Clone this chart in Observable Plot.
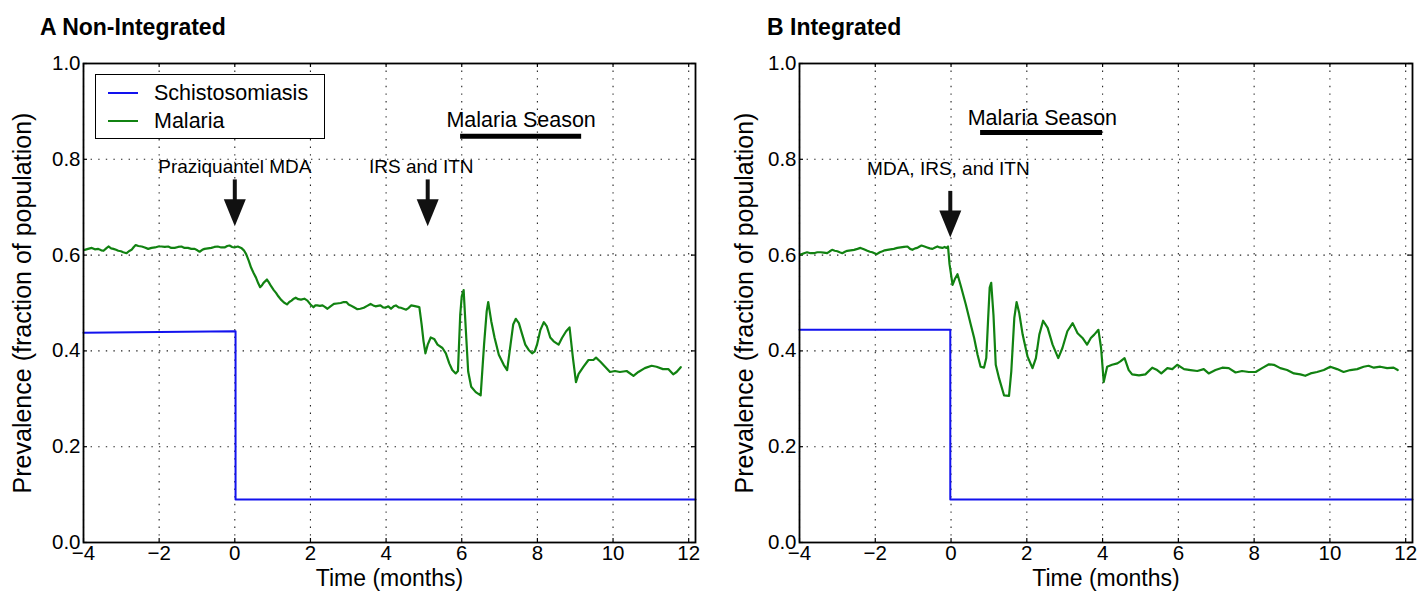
<!DOCTYPE html>
<html>
<head>
<meta charset="utf-8">
<script src="https://cdn.jsdelivr.net/npm/d3@7"></script>
<script src="https://cdn.jsdelivr.net/npm/@observablehq/plot@0.6"></script>
<style>
  body { margin: 0; background: #fff; }
  #wrap { position: relative; width: 1418px; height: 597px; font-family: "Liberation Sans", Arial, sans-serif; overflow: hidden; }
  .panel { position: absolute; top: 0; }
  .title { position: absolute; top: 14px; font-weight: bold; font-size: 23px; color: #000; }
  .legend { position: absolute; box-sizing: border-box; border: 1.5px solid #000; background: #fff; }
  .legend .row { position: absolute; left: 0; height: 24px; }
  .legend .sw { position: absolute; width: 30px; height: 2px; }
  .legend .lab { position: absolute; font-size: 21.5px; line-height: 24px; white-space: nowrap; }
</style>
</head>
<body>
<div id="wrap"></div>
<script>
// ---------- data ----------
const xTicks = [-4, -2, 0, 2, 4, 6, 8, 10, 12];
const yTicks = [0, 0.2, 0.4, 0.6, 0.8, 1.0];
const xDomain = [-4, 12.18];

const seriesNames = ["Schistosomiasis", "Malaria"];
const seriesColors = ["#1212ee", "#118211"];

// Panel A (Non-Integrated)
const aSchistoX = [-4, 0.02, 0.02, 12.18];
const aSchistoY = [0.438, 0.441, 0.09, 0.09];
const aMalariaX = [-3.97,-3.88,-3.78,-3.70,-3.61,-3.53,-3.47,-3.40,-3.34,-3.27,-3.21,-3.14,-3.08,-3.01,-2.95,-2.86,-2.80,-2.73,-2.67,-2.62,-2.55,-2.46,-2.38,-2.29,-2.20,-2.11,-2.02,-1.94,-1.85,-1.76,-1.68,-1.59,-1.50,-1.41,-1.33,-1.24,-1.15,-1.06,-0.99,-0.93,-0.86,-0.80,-0.71,-0.62,-0.54,-0.45,-0.36,-0.27,-0.20,-0.14,-0.07,-0.01,0.08,0.17,0.24,0.30,0.37,0.43,0.50,0.56,0.62,0.67,0.72,0.76,0.85,0.90,0.96,1.03,1.09,1.15,1.22,1.30,1.38,1.44,1.50,1.56,1.61,1.68,1.75,1.84,1.92,2.00,2.08,2.13,2.18,2.25,2.32,2.38,2.45,2.53,2.62,2.70,2.80,2.88,2.95,3.01,3.06,3.15,3.24,3.32,3.41,3.50,3.59,3.66,3.72,3.78,3.85,3.92,3.98,4.06,4.13,4.20,4.26,4.33,4.39,4.46,4.53,4.60,4.66,4.73,4.79,4.85,4.88,4.94,4.99,5.04,5.10,5.18,5.27,5.36,5.49,5.58,5.67,5.75,5.84,5.90,5.96,6.00,6.05,6.11,6.17,6.25,6.37,6.50,6.59,6.66,6.70,6.78,6.87,6.98,7.11,7.20,7.29,7.36,7.43,7.51,7.60,7.68,7.77,7.86,7.93,7.99,8.08,8.17,8.25,8.34,8.43,8.56,8.65,8.76,8.85,8.94,9.02,9.09,9.22,9.35,9.48,9.55,9.66,9.79,9.92,10.05,10.18,10.36,10.54,10.67,10.84,11.02,11.15,11.32,11.46,11.59,11.68,11.79];
const aMalariaY = [0.611,0.613,0.615,0.612,0.613,0.610,0.609,0.614,0.618,0.614,0.613,0.611,0.609,0.608,0.606,0.604,0.608,0.611,0.617,0.621,0.619,0.618,0.616,0.613,0.615,0.616,0.618,0.618,0.617,0.618,0.615,0.615,0.617,0.618,0.615,0.615,0.613,0.613,0.610,0.607,0.611,0.613,0.614,0.615,0.617,0.618,0.616,0.616,0.619,0.620,0.617,0.616,0.618,0.615,0.610,0.602,0.588,0.574,0.562,0.553,0.541,0.533,0.537,0.542,0.549,0.543,0.535,0.527,0.521,0.514,0.507,0.501,0.497,0.502,0.505,0.509,0.511,0.508,0.507,0.509,0.505,0.497,0.491,0.495,0.495,0.494,0.495,0.492,0.488,0.493,0.498,0.499,0.500,0.502,0.502,0.497,0.495,0.491,0.487,0.488,0.490,0.494,0.498,0.495,0.493,0.494,0.495,0.491,0.490,0.493,0.488,0.493,0.495,0.491,0.490,0.488,0.486,0.490,0.495,0.494,0.493,0.492,0.491,0.455,0.420,0.395,0.413,0.428,0.425,0.413,0.406,0.395,0.374,0.360,0.353,0.358,0.476,0.514,0.527,0.441,0.357,0.325,0.314,0.307,0.413,0.483,0.502,0.462,0.427,0.392,0.371,0.360,0.413,0.455,0.467,0.458,0.434,0.413,0.402,0.395,0.399,0.413,0.444,0.460,0.451,0.428,0.420,0.413,0.427,0.441,0.449,0.385,0.335,0.352,0.367,0.381,0.381,0.386,0.378,0.367,0.356,0.358,0.356,0.358,0.348,0.356,0.364,0.369,0.367,0.362,0.362,0.351,0.356,0.366];

// Panel B (Integrated)
const bSchistoX = [-4, -0.02, -0.02, 12.18];
const bSchistoY = [0.444, 0.444, 0.09, 0.09];
const bMalariaX = [-3.97,-3.88,-3.80,-3.71,-3.62,-3.53,-3.44,-3.36,-3.27,-3.20,-3.14,-3.07,-3.00,-2.94,-2.87,-2.80,-2.74,-2.65,-2.56,-2.47,-2.39,-2.30,-2.21,-2.14,-2.08,-1.96,-1.88,-1.81,-1.75,-1.68,-1.60,-1.51,-1.42,-1.33,-1.24,-1.15,-1.08,-1.02,-0.95,-0.89,-0.83,-0.78,-0.70,-0.63,-0.56,-0.49,-0.42,-0.36,-0.30,-0.23,-0.17,-0.12,-0.08,-0.04,0.04,0.10,0.17,0.26,0.39,0.52,0.61,0.70,0.78,0.87,0.93,0.98,1.02,1.06,1.12,1.18,1.27,1.40,1.53,1.59,1.67,1.73,1.80,1.89,2.02,2.15,2.24,2.33,2.43,2.55,2.68,2.83,2.94,3.07,3.21,3.34,3.47,3.59,3.69,3.78,3.89,3.96,4.03,4.12,4.25,4.39,4.47,4.58,4.69,4.78,4.96,5.13,5.31,5.44,5.55,5.71,5.84,5.97,6.15,6.32,6.50,6.67,6.80,6.98,7.16,7.33,7.51,7.68,7.86,8.04,8.21,8.39,8.52,8.69,8.87,9.05,9.22,9.35,9.49,9.66,9.84,10.01,10.19,10.36,10.54,10.72,10.89,11.02,11.16,11.33,11.51,11.68,11.79];
const bMalariaY = [0.601,0.604,0.606,0.604,0.604,0.606,0.606,0.605,0.604,0.608,0.611,0.609,0.608,0.606,0.604,0.607,0.609,0.610,0.611,0.613,0.615,0.612,0.609,0.607,0.606,0.602,0.606,0.608,0.610,0.611,0.612,0.613,0.615,0.616,0.617,0.618,0.613,0.611,0.614,0.615,0.618,0.620,0.618,0.616,0.614,0.613,0.616,0.618,0.616,0.615,0.617,0.615,0.618,0.581,0.538,0.550,0.560,0.535,0.497,0.455,0.427,0.392,0.367,0.365,0.385,0.469,0.532,0.542,0.475,0.371,0.342,0.307,0.306,0.357,0.469,0.502,0.479,0.434,0.388,0.364,0.385,0.434,0.463,0.448,0.413,0.385,0.406,0.441,0.458,0.437,0.427,0.413,0.427,0.434,0.444,0.406,0.335,0.367,0.371,0.374,0.378,0.385,0.360,0.351,0.349,0.351,0.365,0.360,0.353,0.364,0.362,0.371,0.362,0.360,0.358,0.362,0.353,0.360,0.365,0.364,0.355,0.358,0.356,0.356,0.364,0.372,0.371,0.364,0.360,0.353,0.351,0.348,0.353,0.356,0.360,0.367,0.362,0.356,0.360,0.362,0.367,0.369,0.365,0.367,0.364,0.365,0.360];

// annotations
const aLabels = [
  {text: "Malaria Season", x: 7.57, y: 0.881, size: 21.5},
  {text: "Praziquantel MDA", x: 0.0, y: 0.784, size: 19},
  {text: "IRS and ITN", x: 4.93, y: 0.784, size: 19}
];
const aSeason = [{x1: 5.97, x2: 9.17, y: 0.848}];
const aArrows = [{x: 0.0, top: 0.757, tip: 0.66}, {x: 5.1, top: 0.757, tip: 0.66}];

const bLabels = [
  {text: "Malaria Season", x: 2.41, y: 0.887, size: 21.5},
  {text: "MDA, IRS, and ITN", x: -0.07, y: 0.779, size: 19}
];
const bSeason = [{x1: 0.78, x2: 4.0, y: 0.856}];
const bArrows = [{x: -0.02, top: 0.733, tip: 0.637}];

const panelTitles = ["A Non-Integrated", "B Integrated"];
const xLabel = "Time (months)";
const yLabel = "Prevalence (fraction of population)";

// ---------- drawing ----------
const FONT = '"Liberation Sans", Arial, sans-serif';
const MT = 63, MB = 55, H = 597;
const plotH = H - MT - MB;
const arrowHead = {
  draw(context) {
    context.moveTo(-11, -13.5);
    context.lineTo(11, -13.5);
    context.lineTo(0, 13.5);
    context.closePath();
  }
};
const fmtX = d => d < 0 ? "\u2212" + Math.abs(d) : String(d);

function toRows(xs, ys) { return xs.map((x, i) => ({x, y: ys[i]})); }

function panel({schX, schY, malX, malY, labels, season, arrows, marginLeft, marginRight, ylabelDx}) {
  const plotW = 709 - marginLeft - marginRight;
  const grid = {stroke: "#222", strokeWidth: 1.1, strokeDasharray: "1.4,6.2"};
  const tickLenX = 4 * (xDomain[1] - xDomain[0]) / plotW;
  const tickLenY = 4 / plotH;
  return Plot.plot({
    width: 709, height: H,
    marginLeft, marginRight, marginTop: MT, marginBottom: MB,
    style: {fontFamily: FONT, fontSize: "20.5px", color: "#000", background: "transparent", overflow: "visible"},
    x: {domain: xDomain, ticks: xTicks, tickFormat: fmtX, tickSize: 0, tickPadding: 3, label: null},
    y: {domain: [0, 1], ticks: yTicks, tickFormat: d => d.toFixed(1), tickSize: 0, tickPadding: 3, label: null},
    marks: [
      Plot.ruleX(xTicks, grid),
      Plot.ruleY(yTicks, grid),
      Plot.ruleX(xTicks, {x: d => d, y1: 0, y2: tickLenY, stroke: "#000", strokeWidth: 1.2}),
      Plot.ruleX(xTicks, {x: d => d, y1: 1, y2: 1 - tickLenY, stroke: "#000", strokeWidth: 1.2}),
      Plot.ruleY(yTicks, {y: d => d, x1: xDomain[0], x2: xDomain[0] + tickLenX, stroke: "#000", strokeWidth: 1.2}),
      Plot.ruleY(yTicks, {y: d => d, x1: xDomain[1], x2: xDomain[1] - tickLenX, stroke: "#000", strokeWidth: 1.2}),
      Plot.line(toRows(schX, schY), {x: "x", y: "y", stroke: seriesColors[0], strokeWidth: 2}),
      Plot.line(toRows(malX, malY), {x: "x", y: "y", stroke: seriesColors[1], strokeWidth: 2.2}),
      Plot.ruleY(season, {y: "y", x1: "x1", x2: "x2", stroke: "#000", strokeWidth: 5}),
      Plot.ruleX(arrows, {x: "x", y1: "top", y2: "tip", stroke: "#111", strokeWidth: 4, insetBottom: 20}),
      Plot.dot(arrows, {x: "x", y: "tip", symbol: arrowHead, r: 10, fill: "#111", stroke: "none", dy: -13.5}),
      Plot.text(labels, {x: "x", y: "y", text: "text", fontSize: d => d.size, fill: "#000"}),
      Plot.frame({stroke: "#000", strokeWidth: 1.8}),
      Plot.text([xLabel], {frameAnchor: "bottom", dy: 43, fontSize: 23, fill: "#000", textAnchor: "middle"}),
      Plot.text([yLabel], {frameAnchor: "left", rotate: -90, dx: ylabelDx, fontSize: 25, fill: "#000", textAnchor: "middle"})
    ]
  });
}

const wrap = document.getElementById("wrap");

const svgA = panel({schX: aSchistoX, schY: aSchistoY, malX: aMalariaX, malY: aMalariaY,
  labels: aLabels, season: aSeason, arrows: aArrows, marginLeft: 83, marginRight: 14, ylabelDx: -61});
const svgB = panel({schX: bSchistoX, schY: bSchistoY, malX: bMalariaX, malY: bMalariaY,
  labels: bLabels, season: bSeason, arrows: bArrows, marginLeft: 90, marginRight: 6, ylabelDx: -55});

[[svgA, 0], [svgB, 709]].forEach(([svg, left]) => {
  const d = document.createElement("div");
  d.className = "panel";
  d.style.left = left + "px";
  d.appendChild(svg);
  wrap.appendChild(d);
});

// titles
[[panelTitles[0], 40], [panelTitles[1], 767]].forEach(([t, left]) => {
  const d = document.createElement("div");
  d.className = "title";
  d.style.left = left + "px";
  d.textContent = t;
  wrap.appendChild(d);
});

// legend (panel A)
const leg = document.createElement("div");
leg.className = "legend";
Object.assign(leg.style, {left: "95px", top: "74px", width: "230px", height: "65px"});
seriesNames.forEach((name, i) => {
  const row = document.createElement("div");
  row.className = "row";
  row.style.top = (5.7 + i * 28.3) + "px";
  const sw = document.createElement("div");
  sw.className = "sw";
  Object.assign(sw.style, {left: "12px", top: "11px", background: seriesColors[i]});
  const lab = document.createElement("div");
  lab.className = "lab";
  Object.assign(lab.style, {left: "58px", top: "0px"});
  lab.textContent = name;
  row.appendChild(sw); row.appendChild(lab);
  leg.appendChild(row);
});
wrap.appendChild(leg);
</script>
</body>
</html>
